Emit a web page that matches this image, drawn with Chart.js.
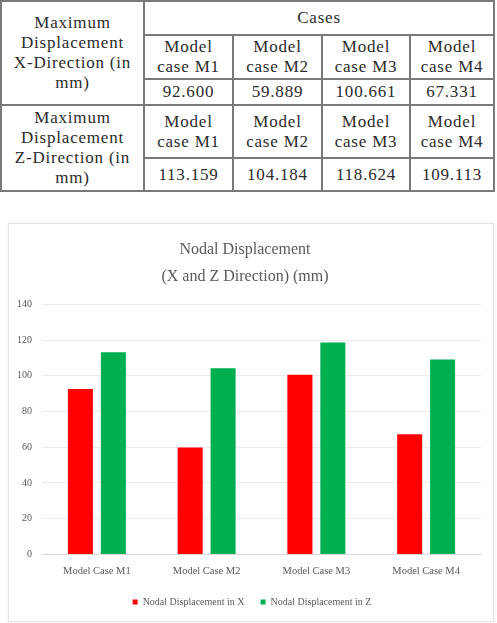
<!DOCTYPE html>
<html>
<head>
<meta charset="utf-8">
<script src="https://cdn.jsdelivr.net/npm/chart.js@4/dist/chart.umd.min.js"></script>
<style>
  html, body { margin: 0; padding: 0; background: #fff; width: 497px; height: 623px; overflow: hidden; }
  table.disp {
    position: absolute; left: 0; top: 0;
    border-collapse: collapse; table-layout: fixed;
    font-family: "Liberation Serif", "Times New Roman", serif; font-size: 17px; line-height: 20px;
    letter-spacing: 0.8px; color: #2b2b2b;
  }
  table.disp td { border: 2px solid #7a7a7a; text-align: center; padding: 0; }
  .card {
    position: absolute; left: 8px; top: 223px; width: 484px; height: 397px;
    border: 1px solid #e4e4e4; box-shadow: 0 0 3px rgba(0,0,0,0.08); background: #fff;
  }
  .card canvas { display: block; }
</style>
</head>
<body>
<table class="disp" id="tbl"></table>
<div class="card"><canvas id="chart" width="484" height="397"></canvas></div>
<script>
const categories = ['Model Case M1', 'Model Case M2', 'Model Case M3', 'Model Case M4'];
const tableCases = ['Model case M1', 'Model case M2', 'Model case M3', 'Model case M4'];
const dispX = [92.600, 59.889, 100.661, 67.331];
const dispZ = [113.159, 104.184, 118.624, 109.113];
const yTicks = [0, 20, 40, 60, 80, 100, 120, 140];

// build table
const tbl = document.getElementById('tbl');
const colWidths = [143, 89, 89, 88, 84];
let html = '<colgroup>' + colWidths.map(w => `<col style="width:${w}px">`).join('') + '</colgroup>';
html += '<tr style="height:34px"><td rowspan="3">Maximum<br>Displacement<br>X-Direction (in<br>mm)</td><td colspan="4">Cases</td></tr>';
html += '<tr style="height:44px">' + tableCases.map(c => `<td>${c.replace('case', '<br>case')}</td>`).join('') + '</tr>';
html += '<tr style="height:26px">' + dispX.map(v => `<td>${v.toFixed(3)}</td>`).join('') + '</tr>';
html += '<tr style="height:53px"><td rowspan="2">Maximum<br>Displacement<br>Z-Direction (in<br>mm)</td>' + tableCases.map(c => `<td>${c.replace('case', '<br>case')}</td>`).join('') + '</tr>';
html += '<tr style="height:33px">' + dispZ.map(v => `<td>${v.toFixed(3)}</td>`).join('') + '</tr>';
tbl.innerHTML = html;

const serif = '"Liberation Serif", "Times New Roman", serif';

// nudge the legend a little right, like the original
const legendShift = {
    id: 'legendShift',
    afterUpdate(chart) {
        if (chart.legend) {
            chart.legend.left += 7;
            chart.legend.right += 7;
        }
    }
};

new Chart(document.getElementById('chart'), {
    type: 'bar',
    data: {
        labels: categories,
        datasets: [
            { label: 'Nodal Displacement in X', data: dispX, backgroundColor: '#ff0000' },
            { label: 'Nodal Displacement in Z', data: dispZ, backgroundColor: '#00b050' }
        ]
    },
    options: {
        responsive: false,
        animation: false,
        layout: { padding: { left: 0, right: 12, top: 8, bottom: 4 } },
        datasets: { bar: { categoryPercentage: 0.6, barPercentage: 0.76 } },
        plugins: {
            title: {
                display: true,
                text: ['Nodal Displacement', '(X and Z Direction) (mm)'],
                color: '#595959',
                font: { family: serif, size: 16, weight: 'normal', lineHeight: 1.7 },
                padding: { top: 4, bottom: 14 }
            },
            legend: {
                position: 'bottom',
                labels: {
                    color: '#595959',
                    font: { family: serif, size: 10 },
                    boxWidth: 5, boxHeight: 5, padding: 16
                }
            },
            tooltip: { enabled: false }
        },
        scales: {
            x: {
                grid: { display: false },
                border: { color: '#d9d9d9' },
                ticks: { color: '#595959', font: { family: serif, size: 10.5 } }
            },
            y: {
                min: 0, max: 140,
                afterBuildTicks: (axis) => { axis.ticks = yTicks.map(v => ({ value: v })); },
                afterFit: (axis) => { axis.width = 33; },
                grid: { color: '#ececec', drawTicks: false },
                border: { display: false },
                ticks: { color: '#595959', font: { family: serif, size: 10 }, padding: 10 }
            }
        }
    },
    plugins: [legendShift]
});
</script>
</body>
</html>
